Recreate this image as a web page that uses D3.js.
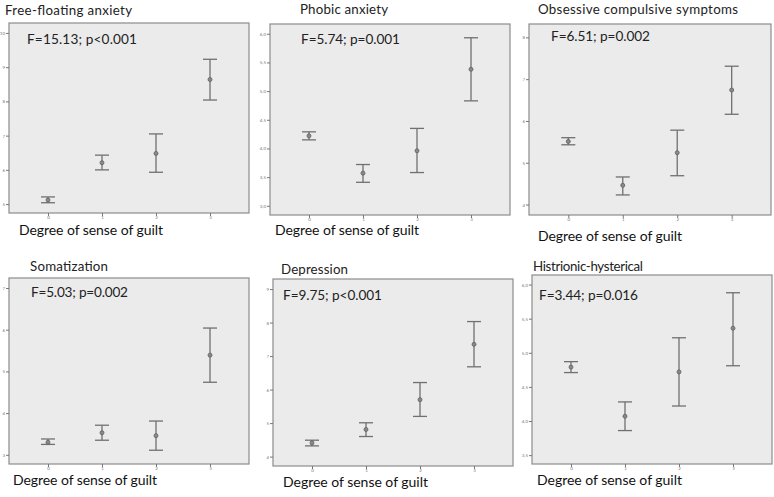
<!DOCTYPE html>
<html><head><meta charset="utf-8">
<script src="https://cdn.jsdelivr.net/npm/d3@7"></script>
<style>body{margin:0;background:#fff}svg{display:block}</style>
</head><body>
<script>
// ---- data ----
const categories = ["0","1","2","3"];
const titles = ["Free-floating anxiety","Phobic anxiety","Obsessive compulsive symptoms","Somatization","Depression","Histrionic-hysterical"];
const stats = ["F=15.13; p<0.001","F=5.74; p=0.001","F=6.51; p=0.002","F=5.03; p=0.002","F=9.75; p<0.001","F=3.44; p=0.016"];
const xLabel = "Degree of sense of guilt";

const freeMean = [5.12, 6.21, 6.48, 8.64];
const freeLow  = [5.04, 6.00, 5.93, 8.04];
const freeHigh = [5.21, 6.43, 7.05, 9.23];

const phobMean = [4.22, 3.57, 3.96, 5.38];
const phobLow  = [4.15, 3.41, 3.58, 4.83];
const phobHigh = [4.29, 3.72, 4.35, 5.93];

const obsMean = [5.51, 4.46, 5.24, 6.74];
const obsLow  = [5.43, 4.23, 4.69, 6.16];
const obsHigh = [5.60, 4.66, 5.78, 7.31];

const somMean = [3.30, 3.53, 3.46, 5.39];
const somLow  = [3.25, 3.35, 3.11, 4.74];
const somHigh = [3.38, 3.71, 3.81, 6.04];

const depMean = [4.41, 4.81, 5.70, 7.35];
const depLow  = [4.32, 4.60, 5.20, 6.68];
const depHigh = [4.49, 5.01, 6.21, 8.03];

const hisMean = [4.79, 4.07, 4.72, 5.36];
const hisLow  = [4.71, 3.86, 4.22, 4.81];
const hisHigh = [4.87, 4.28, 5.22, 5.88];

const ticks1 = ["5","6","7","8","9","10"];
const ticks2 = ["3,0","3,5","4,0","4,5","5,0","5,5","6,0"];
const ticks3 = ["4","5","6","7","8"];
const ticks4 = ["3","4","5","6","7"];
const ticks5 = ["4","5","6","7","8","9"];
const ticks6 = ["3,5","4,0","4,5","5,0","5,5","6,0"];

// ---- layout ----
const panels = [
  {mean:freeMean, low:freeLow, high:freeHigh, ticks:ticks1, dom:[4.74,10.29], box:[9,23,249,213], title:[5,15,127], stat:[27,44,110], xl:[19,235,144]},
  {mean:phobMean, low:phobLow, high:phobHigh, ticks:ticks2, dom:[2.84,6.17], box:[270,24,510,215], title:[300,14,88], stat:[301,44,99], xl:[275,235,144]},
  {mean:obsMean, low:obsLow, high:obsHigh, ticks:ticks3, dom:[3.75,8.32], box:[529,24,771,215], title:[538,14,200], stat:[551,41,99], xl:[538,241,144]},
  {mean:somMean, low:somLow, high:somHigh, ticks:ticks4, dom:[2.78,7.24], box:[9,278,249,464], title:[30,271,78], stat:[31,297,97], xl:[13,485,144]},
  {mean:depMean, low:depLow, high:depHigh, ticks:ticks5, dom:[3.72,9.3], box:[273,279,513,466], title:[281,274,67], stat:[283,300,99], xl:[283,487,145]},
  {mean:hisMean, low:hisLow, high:hisHigh, ticks:ticks6, dom:[3.37,6.14], box:[532,275,772,464], title:[533,271,110], stat:[539,300,99], xl:[537,485,145]}
];

const W = 774, H = 497;
const svg = d3.select("body").append("svg").attr("width", W).attr("height", H);
const font = "Lato, 'Open Sans', sans-serif";

panels.forEach((p, i) => {
  const [x0, y0, x1, y1] = p.box;
  const x = d3.scalePoint().domain(categories).range([x0, x1]).padding(0.722);
  const y = d3.scaleLinear().domain(p.dom).range([y1, y0]);
  const g = svg.append("g");

  g.append("rect").attr("x", x0).attr("y", y0).attr("width", x1 - x0).attr("height", y1 - y0)
    .attr("fill", "#ebebeb").attr("stroke", "#8c8c8c").attr("stroke-width", 1.2);

  const tickVals = p.ticks.map(t => +t.replace(",", "."));
  const yAxis = d3.axisLeft(y).tickValues(tickVals).tickSize(3).tickPadding(1)
    .tickFormat((d, k) => p.ticks[k]);
  const ya = g.append("g").attr("transform", `translate(${x0},0)`).call(yAxis);
  ya.select(".domain").remove();
  ya.selectAll("line").attr("stroke", "#777");
  ya.selectAll("text").attr("fill", "#777").style("font-size", "4.5px").style("font-family", font);

  const xAxis = d3.axisBottom(x).tickSize(3).tickPadding(0);
  const xa = g.append("g").attr("transform", `translate(0,${y1})`).call(xAxis);
  xa.select(".domain").remove();
  xa.selectAll("line").attr("stroke", "#777");
  xa.selectAll("text").attr("fill", "#777").style("font-size", "4.5px").style("font-family", font);

  const cap = 7;
  categories.forEach((c, k) => {
    const cx = x(c);
    g.append("line").attr("x1", cx).attr("x2", cx).attr("y1", y(p.low[k])).attr("y2", y(p.high[k]))
      .attr("stroke", "#707070").attr("stroke-width", 1.3);
    [p.low[k], p.high[k]].forEach(v => {
      g.append("line").attr("x1", cx - cap).attr("x2", cx + cap).attr("y1", y(v)).attr("y2", y(v))
        .attr("stroke", "#707070").attr("stroke-width", 1.3);
    });
    g.append("circle").attr("cx", cx).attr("cy", y(p.mean[k])).attr("r", 2)
      .attr("fill", "#8a8a8a").attr("stroke", "#606060").attr("stroke-width", 0.8);
  });

  svg.append("text").attr("x", p.title[0]).attr("y", p.title[1]).text(titles[i])
    .attr("textLength", p.title[2]).attr("lengthAdjust", "spacing")
    .style("font-family", font).style("font-size", "13.3px").attr("fill", "#222");
  svg.append("text").attr("x", p.stat[0]).attr("y", p.stat[1]).text(stats[i])
    .attr("textLength", p.stat[2]).attr("lengthAdjust", "spacing")
    .style("font-family", font).style("font-size", "13.6px").attr("fill", "#222");
  svg.append("text").attr("x", p.xl[0]).attr("y", p.xl[1]).text(xLabel)
    .attr("textLength", p.xl[2]).attr("lengthAdjust", "spacing")
    .style("font-family", font).style("font-size", "14px").attr("fill", "#111");
});
</script>
</body></html>
